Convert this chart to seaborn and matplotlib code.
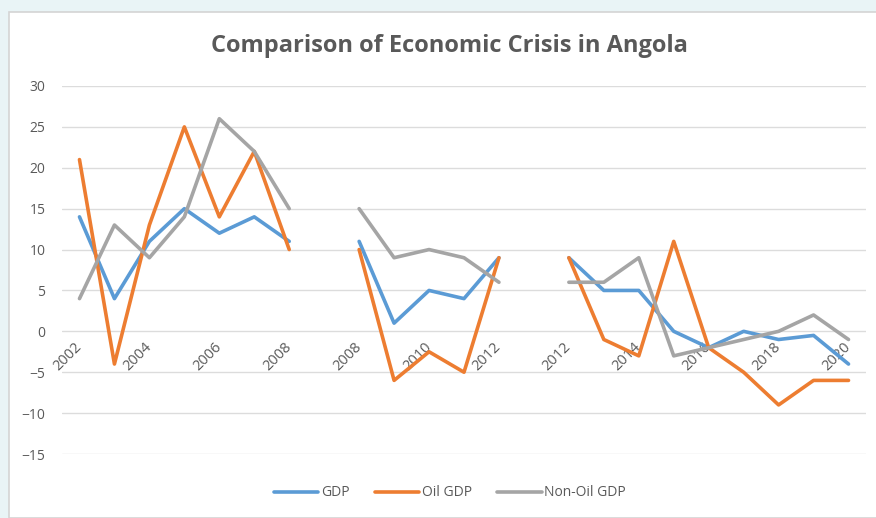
import pandas as pd
import numpy as np
import matplotlib.pyplot as plt
import seaborn as sns
from matplotlib.patches import Rectangle

# three separate windows of years, each drawn as its own line piece
years_1 = ["2002", "2003", "2004", "2005", "2006", "2007", "2008"]
gdp_1 = [14, 4, 11, 15, 12, 14, 11]
oil_1 = [21, -4, 13, 25, 14, 22, 10]
nonoil_1 = [4, 13, 9, 14, 26, 22, 15]

years_2 = ["2008", "2009", "2010", "2011", "2012"]
gdp_2 = [11, 1, 5, 4, 9]
oil_2 = [10, -6, -2.5, -5, 9]
nonoil_2 = [15, 9, 10, 9, 6]

years_3 = ["2012", "2013", "2014", "2015", "2016", "2017", "2018", "2019", "2020"]
gdp_3 = [9, 5, 5, 0, -2, 0, -1, -0.5, -4]
oil_3 = [9, -1, -3, 11, -2, -5, -9, -6, -6]
nonoil_3 = [6, 6, 9, -3, -2, -1, 0, 2, -1]

series_names = ["GDP", "Oil GDP", "Non-Oil GDP"]
palette = ["#5B9BD5", "#ED7D31", "#A5A5A5"]

# category axis: segments separated by one empty slot
categories = years_1 + [""] + years_2 + [""] + years_3

rows = []
start = 0
for seg, (yrs, vals) in enumerate([
    (years_1, [gdp_1, oil_1, nonoil_1]),
    (years_2, [gdp_2, oil_2, nonoil_2]),
    (years_3, [gdp_3, oil_3, nonoil_3]),
]):
    for name, v in zip(series_names, vals):
        for i, y in enumerate(v):
            rows.append({"pos": start + i, "value": y, "series": name, "segment": seg})
    start += len(yrs) + 1
df = pd.DataFrame(rows)

sns.set_theme(style="white")
plt.rcParams['font.family'] = ['Open Sans', 'DejaVu Sans']

fig = plt.figure(figsize=(8.76, 5.18), dpi=100)
fig.patch.set_facecolor('#e9f4f6')
fig.patches.append(Rectangle((9 / 876, 0), 1, 1 - 12 / 518, transform=fig.transFigure,
                             facecolor='white', edgecolor='#d4d4d4', linewidth=1.2, zorder=-1))

ax = fig.add_axes([62 / 876, 1 - 454 / 518, (866 - 62) / 876, (454 - 86) / 518])
ax.set_facecolor('none')

sns.lineplot(data=df, x="pos", y="value", hue="series", units="segment", estimator=None,
             hue_order=series_names, palette=palette, linewidth=2.6, ax=ax, legend=False, zorder=3)

ax.set_xlim(-0.5, len(categories) - 0.5)
ax.set_ylim(-15, 30)
ax.set_yticks(range(-15, 31, 5))
ax.yaxis.grid(True, color='#dcdcdc', linewidth=1)
ax.xaxis.grid(False)
ax.set_axisbelow(True)
for s in ax.spines.values():
    s.set_visible(False)

tick_pos = list(range(0, len(categories), 2))
ax.set_xticks(tick_pos)
ax.set_xticklabels([categories[i] for i in tick_pos])
ax.spines['bottom'].set_position(('data', 0))
ax.tick_params(axis='x', length=0, pad=10, labelsize=10.5, colors='#595959')
ax.tick_params(axis='y', length=0, pad=12, labelsize=10, colors='#595959')
for lbl in ax.get_xticklabels():
    lbl.set_rotation(45)
    lbl.set_ha('right')
    lbl.set_va('center')
    lbl.set_rotation_mode('anchor')
ax.set_xlabel('')
ax.set_ylabel('')

handles = [plt.Line2D([], [], color=c, linewidth=2.6) for c in palette]
fig.legend(handles, series_names, loc='center', bbox_to_anchor=(450 / 876, 1 - 493 / 518),
           ncol=3, frameon=False, fontsize=10, handlelength=3.2, handletextpad=0.2,
           columnspacing=1.8, labelcolor='#595959')

fig.text(449 / 876, 1 - 46 / 518, 'Comparison of Economic Crisis in Angola', ha='center', va='center',
         fontsize=17, fontweight='bold', color='#595959')

plt.savefig('out.png', dpi=100, facecolor=fig.get_facecolor())
